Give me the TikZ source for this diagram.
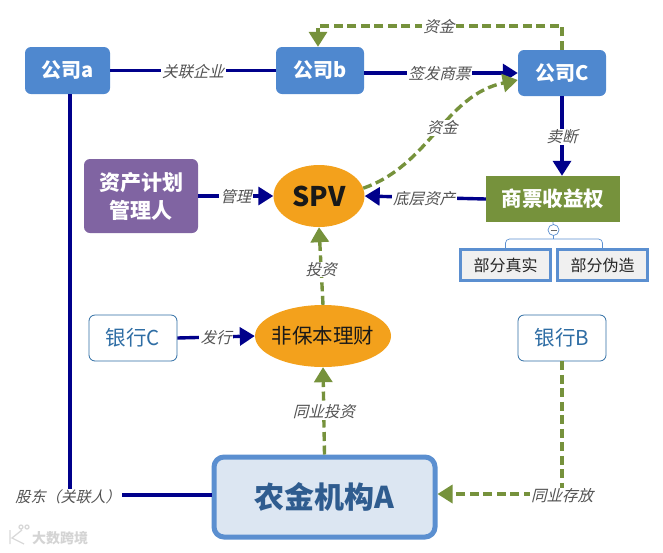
\documentclass[tikz,border=0pt]{standalone}
\usepackage{fontspec}
\setmainfont{Noto Sans CJK SC}
\newfontfamily\slantfont[FakeSlant=0.25]{Noto Sans CJK SC}
\usetikzlibrary{shapes.geometric,arrows.meta,calc}
\definecolor{bluebox}{HTML}{4F88CF}
\definecolor{navyline}{HTML}{00008B}
\definecolor{olive}{HTML}{76923C}
\definecolor{purplebox}{HTML}{8064A2}
\definecolor{orangeell}{HTML}{F3A11C}
\definecolor{frameblue}{HTML}{5B8FD0}
\definecolor{tealtext}{HTML}{2E6DA4}
\definecolor{bgA}{HTML}{DCE6F2}
\definecolor{tealdark}{HTML}{2F5C8F}
\tikzset{
 co/.style={draw=none,fill=bluebox,rounded corners=6pt,text=white,font=\bfseries\fontsize{20}{22}\selectfont,inner sep=0pt},
 ell/.style={ellipse,fill=orangeell,inner sep=0pt},
 whitebox/.style={draw=tealtext,line width=.8pt,fill=white,rounded corners=6pt,text=tealtext,inner sep=0pt,font=\fontsize{20.5}{22}\selectfont},
 part/.style={draw=frameblue,line width=3.5pt,fill=black!6,inner sep=0pt,font=\fontsize{16}{18}\selectfont,text=black!85},
 solidl/.style={draw=navyline,line width=3.4pt},
 solida/.style={solidl,-{Triangle[length=15pt,width=18pt]}},
 dashl/.style={draw=olive,line width=3.4pt,dash pattern=on 9pt off 4.5pt},
 dasha/.style={dashl,-{Triangle[length=15pt,width=18pt,fill=olive]}},
 lab/.style={font=\slantfont\fontsize{15.5}{17}\selectfont,text=black!68,fill=white,inner xsep=1.5pt,inner ysep=0.5pt,yshift=-1pt},
 tree/.style={draw=frameblue,line width=.7pt},
}
\begin{document}
\begin{tikzpicture}[x=1pt,y=-1pt]
\useasboundingbox (0,0) rectangle (663,552);
\node[co,minimum width=85pt,minimum height=47pt] (a) at (67.5,70.5) {公司a};
\node[co,minimum width=88pt,minimum height=47pt] (b) at (320,70.5) {公司b};
\node[co,minimum width=88pt,minimum height=46pt] (c) at (562,73) {公司C};
\node[co,fill=purplebox,minimum width=114pt,minimum height=74pt,align=center,font=\bfseries\fontsize{21}{28}\selectfont] (m) at (141,196) {资产计划\\管理人};
\node[ell,minimum width=91pt,minimum height=62pt,font=\bfseries\fontsize{27}{29}\selectfont,text=black!90] (spv) at (319,196) {SPV};
\node[fill=olive,minimum width=134pt,minimum height=46pt,inner sep=0pt,text=white,font=\bfseries\fontsize{20.5}{24}\selectfont] (r) at (553,199) {商票收益权};
\node[part,minimum width=90pt,minimum height=31pt] (p1) at (505.5,265) {部分真实};
\node[part,minimum width=90pt,minimum height=31pt] (p2) at (602.5,265) {部分伪造};
\node[circle,draw=frameblue,line width=.7pt,fill=white,minimum size=11pt,inner sep=0pt] (minus) at (553.5,230) {};
\draw[line width=.7pt,black!60] ($(minus.center)+(-3,0)$) -- ($(minus.center)+(3,0)$);
\coordinate (mj) at (553.5,239);
\draw[tree] (r.south) -- (minus);
\draw[tree,rounded corners=4pt] (p1.north) -- (p1.north |- mj) -- (p2.north |- mj) -- (p2.north);
\draw[tree] (minus) -- (mj);
\node[whitebox,minimum width=88pt,minimum height=46pt] (bc) at (133,338) {银行C};
\node[ell,minimum width=136pt,minimum height=62pt,font=\fontsize{20.5}{22}\selectfont,text=black!90] (f) at (323,336) {\makebox[60pt]{非保本理财}};
\node[whitebox,minimum width=88pt,minimum height=46pt] (bb) at (562,338) {银行B};
\node[draw=frameblue,line width=5pt,fill=bgA,rounded corners=10pt,minimum width=221pt,minimum height=80pt,inner sep=0pt,text=tealdark,font=\bfseries\fontsize{30}{32}\selectfont] (n) at (324.5,497) {农金机构A};
% connectors
\draw[solidl] (a) -- node[lab,pos=.5] {关联企业} (b);
\draw[solida] (b.east |- c) -- node[lab,pos=.49] {签发商票} (c.west);
\coordinate (sh) at (70,495);
\draw[solidl] (a.south -| sh) -- (sh) -- (sh -| n.west);
\node[lab,font=\slantfont\fontsize{15}{17}\selectfont] (shl) at (68,496) {股东（关联人）};
\coordinate (ct) at (562,26);
\coordinate (bt) at (318,26);
\draw[dasha] (c.north -| ct) -- (ct) -- node[lab,pos=.505] {资金} (bt) -- (b.north -| bt);
\draw[dasha] (spv.10) .. controls (430,165) and (445,95) .. node[lab,pos=.53] {资金} (c.west |- 0,80);
\draw[solida] (c.south) -- node[lab,pos=.5] {卖断} (c.south |- r.north);
\draw[solida] (r.west) -- node[lab,pos=.51] {底层资产} (spv.east);
\draw[solida] (m.east) -- node[lab,pos=.5] {管理} (spv.west);
\draw[dasha] (f.north) -- node[lab,pos=.47] {投资} (spv.south);
\draw[solida] (bc.east) -- node[lab,pos=.5] {发行} (f.west);
\draw[dasha] (n.north) -- node[lab,pos=.5] {同业投资} (f.south);
\coordinate (bbc) at (562,494);
\draw[dasha] (bb.south) -- (bbc) -- (n.east |- bbc);
\node[lab] (cf) at (562,495) {同业存放};
\node[font=\bfseries\fontsize{14}{16}\selectfont,text=black!17] (wm) at (60,538) {大数跨境};
\draw[black!15,line width=1.3pt] (10,530) -- (10,544) (22,530) -- (12,538) -- (24,544) (21,527) circle (2pt) (27,527) circle (2pt);
\end{tikzpicture}
\end{document}
